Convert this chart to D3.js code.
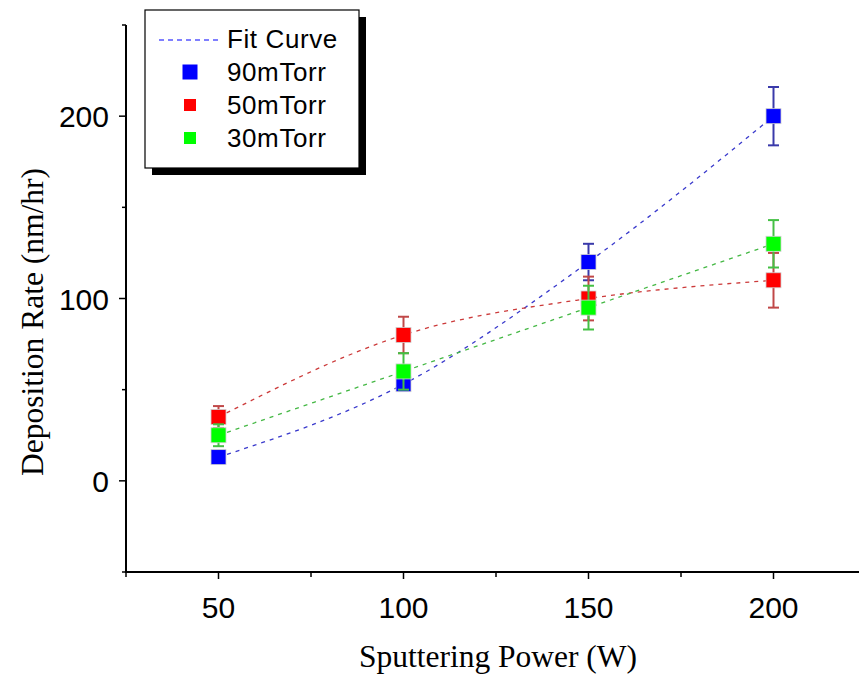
<!DOCTYPE html>
<html><head><meta charset="utf-8">
<script src="https://cdn.jsdelivr.net/npm/d3@7"></script>
<style>body{margin:0;background:#fff}svg{display:block}</style>
</head><body>
<svg id="c" width="859" height="675"></svg>
<script>
const powers = [50, 100, 150, 200];
const series90 = [13, 53, 120, 200];
const err90 = [3, 3, 10, 16];
const series50 = [35, 80, 100, 110];
const err50 = [6, 10, 12, 15];
const series30 = [25, 60, 95, 130];
const err30 = [6, 10, 12, 13];
const xMajorTicks = [50, 100, 150, 200];
const xMinorTicks = [25, 75, 125, 175];
const yMajorTicks = [0, 100, 200];
const yMinorTicks = [-50, 50, 150, 250];
const seriesNames = ["90mTorr", "50mTorr", "30mTorr"];

const series = [
  {name: seriesNames[0], vals: series90, err: err90, fill: "#0000ff", line: "#3a3acc", ebar: "#3a3aaa"},
  {name: seriesNames[1], vals: series50, err: err50, fill: "#ff0000", line: "#cc3a3a", ebar: "#c04848"},
  {name: seriesNames[2], vals: series30, err: err30, fill: "#00ff00", line: "#44b844", ebar: "#44c044"}
];

const svg = d3.select("#c");
const x = d3.scaleLinear().domain([25, 225]).range([126, 866]);
const y = d3.scaleLinear().domain([-50, 250]).range([572, 25]);

// fit curves
const lineGen = d3.line().x(d => x(d[0])).y(d => y(d[1])).curve(d3.curveMonotoneX);
series.forEach(s => {
  svg.append("path").datum(powers.map((p, i) => [p, s.vals[i]]))
    .attr("d", lineGen).attr("fill", "none").attr("stroke", s.line)
    .attr("stroke-width", 1.3).attr("stroke-dasharray", "4,5");
});

// error bars and markers
series.forEach(s => {
  const g = svg.append("g");
  powers.forEach((p, i) => {
    const cx = x(p), v = s.vals[i], e = s.err[i];
    g.append("line").attr("x1", cx).attr("x2", cx).attr("y1", y(v + e)).attr("y2", y(v - e))
      .attr("stroke", s.ebar).attr("stroke-width", 2);
    [v + e, v - e].forEach(t => g.append("line").attr("x1", cx - 5.5).attr("x2", cx + 5.5)
      .attr("y1", y(t)).attr("y2", y(t)).attr("stroke", s.ebar).attr("stroke-width", 2));
  });
  powers.forEach((p, i) => {
    g.append("rect").attr("x", x(p) - 7.5).attr("y", y(s.vals[i]) - 7.5).attr("width", 15).attr("height", 15)
      .attr("fill", s.fill).attr("stroke", "#d0d0d0").attr("stroke-width", 0.8);
  });
});

// axes
const axG = svg.append("g").attr("stroke", "#000");
axG.append("line").attr("x1", 126).attr("x2", 126).attr("y1", y(250)).attr("y2", y(-50)).attr("stroke-width", 2);
axG.append("line").attr("x1", 125).attr("x2", 859).attr("y1", y(-50)).attr("y2", y(-50)).attr("stroke-width", 2);
yMajorTicks.forEach(t => axG.append("line").attr("x1", 119).attr("x2", 126).attr("y1", y(t)).attr("y2", y(t)).attr("stroke-width", 1.5));
yMinorTicks.forEach(t => axG.append("line").attr("x1", 122).attr("x2", 126).attr("y1", y(t)).attr("y2", y(t)).attr("stroke-width", 1.5));
xMajorTicks.forEach(t => axG.append("line").attr("x1", x(t)).attr("x2", x(t)).attr("y1", 572).attr("y2", 579).attr("stroke-width", 1.5));
xMinorTicks.forEach(t => axG.append("line").attr("x1", x(t)).attr("x2", x(t)).attr("y1", 572).attr("y2", 577).attr("stroke-width", 1.5));

const tf = "'Liberation Sans', Arial, sans-serif";
yMajorTicks.forEach(t => svg.append("text").attr("x", 109).attr("y", y(t) + 11)
  .attr("text-anchor", "end").attr("font-family", tf).attr("font-size", 30).text(t));
xMajorTicks.forEach(t => svg.append("text").attr("x", x(t)).attr("y", 618)
  .attr("text-anchor", "middle").attr("font-family", tf).attr("font-size", 30).text(t));

const sf = "'Liberation Serif', 'Times New Roman', serif";
svg.append("text").attr("x", 498).attr("y", 667).attr("text-anchor", "middle")
  .attr("font-family", sf).attr("font-size", 31.5).text("Sputtering Power (W)");
svg.append("text").attr("transform", "translate(43,322) rotate(-90)")
  .attr("text-anchor", "middle").attr("font-family", sf).attr("font-size", 31.5).text("Deposition Rate (nm/hr)");

// legend
const lg = svg.append("g");
lg.append("rect").attr("x", 152).attr("y", 17).attr("width", 214).attr("height", 158).attr("fill", "#000");
lg.append("rect").attr("x", 145).attr("y", 10).attr("width", 214).attr("height", 158).attr("fill", "#fff")
  .attr("stroke", "#000").attr("stroke-width", 1.2);
lg.append("line").attr("x1", 159).attr("x2", 219).attr("y1", 40).attr("y2", 40)
  .attr("stroke", "#5555ff").attr("stroke-width", 1.3).attr("stroke-dasharray", "5,4");
lg.append("text").attr("x", 227).attr("y", 39 + 9.3).attr("font-family", tf)
  .attr("font-size", 26).attr("letter-spacing", 0.6).text("Fit Curve");
const legSizes = [15, 12, 12];
series.forEach((s, i) => {
  const cy = 72 + i * 33;
  const sz = legSizes[i];
  lg.append("rect").attr("x", 190 - sz / 2).attr("y", cy - sz / 2).attr("width", sz).attr("height", sz).attr("fill", s.fill);
  lg.append("text").attr("x", 227).attr("y", cy + 9.3).attr("font-family", tf)
    .attr("font-size", 26).attr("letter-spacing", 0.6).text(s.name);
});
</script>
</body></html>
